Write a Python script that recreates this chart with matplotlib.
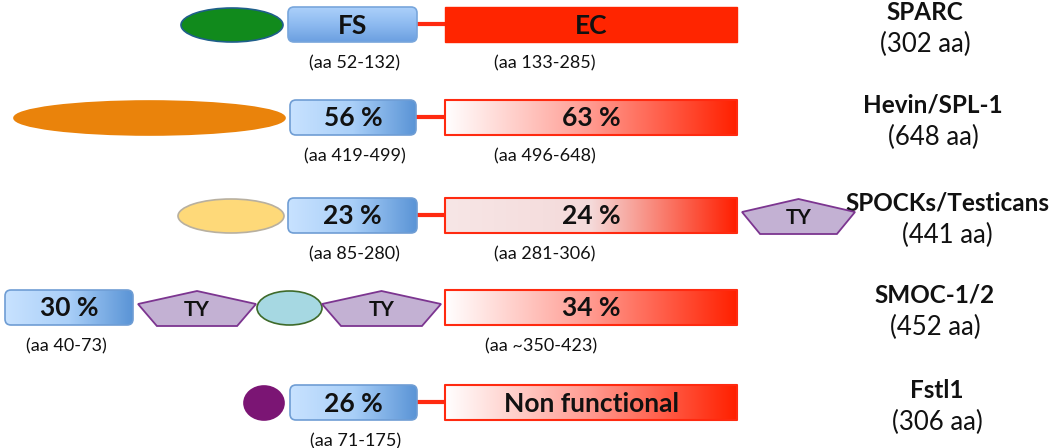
import numpy as np
import matplotlib.pyplot as plt
from matplotlib.patches import FancyBboxPatch, Rectangle, Ellipse, Polygon
from matplotlib.colors import LinearSegmentedColormap

plt.rcParams['font.family'] = ['Lato', 'DejaVu Sans']

#%% data
proteins = ['SPARC', 'Hevin/SPL-1', 'SPOCKs/Testicans', 'SMOC-1/2', 'Fstl1']
lengths = ['(302 aa)', '(648 aa)', '(441 aa)', '(452 aa)', '(306 aa)']
fs_text = ['FS', '56 %', '23 %', '30 %', '26 %']
ec_text = ['EC', '63 %', '24 %', '34 %', 'Non functional']
fs_range = ['(aa 52-132)', '(aa 419-499)', '(aa 85-280)', '(aa 40-73)', '(aa 71-175)']
ec_range = ['(aa 133-285)', '(aa 496-648)', '(aa 281-306)', '(aa ~350-423)', '']

#%% layout (pixels)
row_top = [7, 100, 198, 290, 385]
box_h = 35
fs_x = [(288, 417), (290, 416), (288, 417), (5, 133), (290, 417)]
ec_x = (445, 737)
ellipses = [  # row, x0, x1, face, edge
    (0, 181, 283, '#118a1c', '#1f5f8a'),
    (1, 14, 285, '#ea830b', '#ea830b'),
    (2, 178, 284, '#fed979', '#b8b0a0'),
    (3, 257, 322, '#a6d8e2', '#3e6a2a'),
    (4, 244, 284, '#7b1574', '#7b1574'),
]
ty_x = [(2, 742, 855), (3, 138, 256), (3, 322, 441)]
name_x = [925, 933, 947, 935, 937]

fig = plt.figure(figsize=(10.5, 4.48), dpi=100)
ax = fig.add_axes([0, 0, 1, 1])

blue_cm = LinearSegmentedColormap.from_list('b', ['#c8e2ff', '#a9cff8', '#5a94d6'])
blue_v = LinearSegmentedColormap.from_list('bv', ['#acd0fa', '#8dbaf0', '#6b9fe0'])
red_cm = LinearSegmentedColormap.from_list('r', ['#ffffff', '#ff9a90', '#ff2000'])
pink_cm = LinearSegmentedColormap.from_list('p', [(0, '#f7e6e6'), (0.5, '#f4dada'), (1, '#ff1e00')])


def grad_box(x0, x1, y0, h, cmap, edge, rounding, vertical=False, lw=1.2):
    patch = FancyBboxPatch((x0, y0), x1 - x0, h,
                           boxstyle='round,pad=0,rounding_size=%g' % rounding,
                           facecolor='none', edgecolor=edge, lw=lw, zorder=3)
    ax.add_patch(patch)
    g = np.linspace(0, 1, 256)
    img = g.reshape(-1, 1) if vertical else g.reshape(1, -1)
    im = ax.imshow(img, cmap=cmap, extent=(x0, x1, y0 + h, y0), aspect='auto',
                   origin='upper', zorder=2, interpolation='bilinear')
    im.set_clip_path(patch)


for i in range(5):
    top = row_top[i]
    yc = top + box_h / 2
    fx0, fx1 = fs_x[i]
    # FS domain
    if i == 0:
        grad_box(fx0, fx1, top, box_h, blue_v, '#78a6dc', 6, vertical=True)
    else:
        grad_box(fx0, fx1, top, box_h, blue_cm, '#6f9dd4', 6)
    ax.text((fx0 + fx1) / 2, yc + 1, fs_text[i], ha='center', va='center',
            fontsize=19, fontweight='bold', color='#111111', zorder=5)
    # EC domain
    if i == 0:
        ax.add_patch(Rectangle((ec_x[0], top), ec_x[1] - ec_x[0], box_h,
                               facecolor='#ff2500', edgecolor='#ff2500', zorder=3))
    elif i == 2:
        grad_box(ec_x[0], ec_x[1], top, box_h, pink_cm, '#ff2a10', 0.1, lw=1.5)
    else:
        grad_box(ec_x[0], ec_x[1], top, box_h, red_cm, '#ff2a10', 0.1, lw=1.5)
    ax.text((ec_x[0] + ec_x[1]) / 2, yc + 1, ec_text[i], ha='center', va='center',
            fontsize=19, fontweight='bold', color='#111111', zorder=5)
    # linker
    if i != 3:
        ax.plot([fx1, ec_x[0]], [yc, yc], color='#ff2a10', lw=3, zorder=1,
                solid_capstyle='butt')
    # ranges
    ax.text((fx0 + fx1) / 2 + (2 if i != 3 else -3), top + 56, fs_range[i],
            ha='center', va='center', fontsize=13, color='#111111')
    if ec_range[i]:
        ax.text(545 + (-4 if i == 3 else 0), top + 56, ec_range[i],
                ha='center', va='center', fontsize=13, color='#111111')
    # names
    ax.text(name_x[i], top + 5, proteins[i], ha='center', va='center',
            fontsize=17.5, fontweight='bold', color='#111111')
    ax.text(name_x[i], top + 37, lengths[i], ha='center', va='center',
            fontsize=18.5, color='#111111')

for r, x0, x1, fc, ec in ellipses:
    top = row_top[r]
    ax.add_patch(Ellipse(((x0 + x1) / 2, top + box_h / 2 + 0.5), x1 - x0, box_h - 1,
                         facecolor=fc, edgecolor=ec, lw=1.2, zorder=3))

for r, x0, x1 in ty_x:
    top = row_top[r]
    w = x1 - x0
    pts = [(x0 + 0.5 * w, top + 1), (x1, top + 14), (x1 - 0.16 * w, top + box_h + 1),
           (x0 + 0.16 * w, top + box_h + 1), (x0, top + 14)]
    ax.add_patch(Polygon(pts, closed=True, facecolor='#c3b1d3', edgecolor='#7c3590',
                         lw=1.3, zorder=3))
    ax.text(x0 + 0.5 * w, top + box_h / 2 + 3, 'TY', ha='center', va='center',
            fontsize=15, fontweight='bold', color='#111111', zorder=5)

ax.set_xlim(0, 1050)
ax.set_ylim(448, 0)
ax.axis('off')
fig.savefig('out.png', dpi=100)
